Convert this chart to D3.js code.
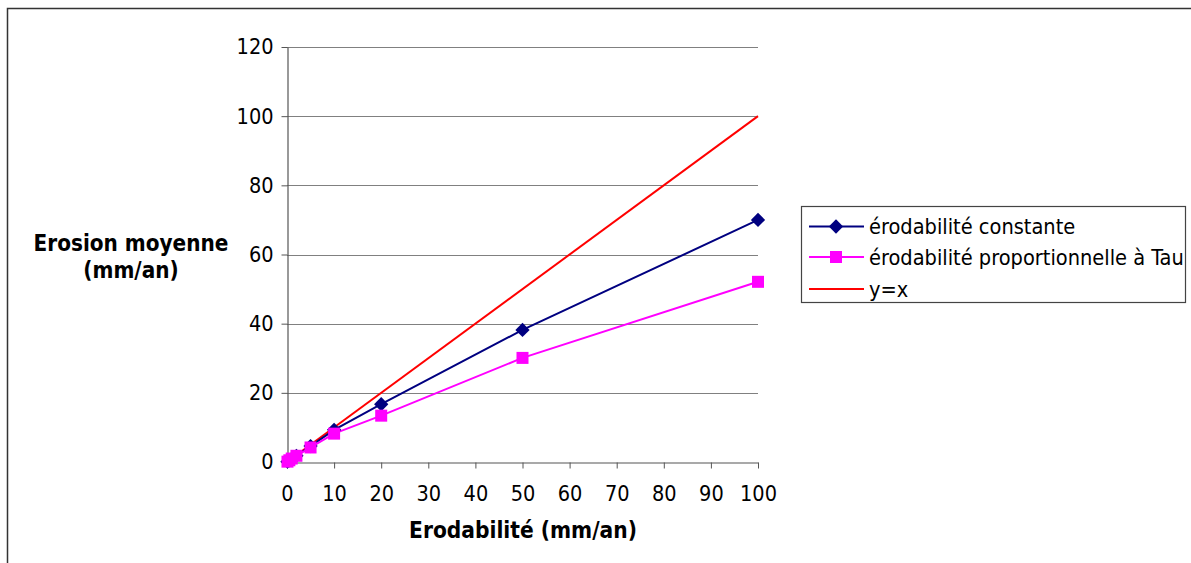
<!DOCTYPE html>
<html><head><meta charset="utf-8">
<script src="https://cdn.jsdelivr.net/npm/d3@7"></script>
<style>
html,body{margin:0;padding:0;background:#fff;}
svg{display:block;}
text{font-family:"DejaVu Sans Condensed","DejaVu Sans",sans-serif;fill:#000;}
</style></head>
<body><svg id="c" width="1191" height="563"></svg>
<script>
const xValues = [0.1, 0.5, 1, 2, 5, 10, 20, 50, 100];
const constante = [0.1, 0.5, 0.9, 1.8, 4.6, 9.3, 16.7, 38.2, 70.0];
const proportionnelle = [0.1, 0.5, 1.0, 1.8, 4.2, 8.2, 13.4, 30.1, 52.1];
const identite = [0, 100];
const xTicks = [0,10,20,30,40,50,60,70,80,90,100];
const yTicks = [0,20,40,60,80,100,120];
const seriesNames = ["érodabilité constante", "érodabilité proportionnelle à Tau", "y=x"];
const xTitle = "Erodabilité (mm/an)";
const yTitle = ["Erosion moyenne", "(mm/an)"];

const svg = d3.select("#c");
const x = d3.scaleLinear().domain([0,100]).range([287,758]);
const y = d3.scaleLinear().domain([0,120]).range([462,47]);

// outer border
svg.append("path").attr("d","M7.5,563 L7.5,8.5 L1191,8.5").attr("fill","none").attr("stroke","#333").attr("stroke-width",1.5);

// gridlines
svg.append("g").selectAll("line").data(yTicks.filter(d=>d>0)).join("line")
  .attr("x1",x(0)).attr("x2",x(100)).attr("y1",d=>Math.round(y(d))+0.5).attr("y2",d=>Math.round(y(d))+0.5)
  .attr("stroke","#808080").attr("stroke-width",1);

// axes
const xa = svg.append("g").attr("transform",`translate(0,${Math.round(y(0))+0.5})`)
  .call(d3.axisBottom(x).tickValues(xTicks).tickSize(6).tickSizeOuter(0).tickPadding(13).tickFormat(d3.format("d")));
const ya = svg.append("g").attr("transform",`translate(${Math.round(x(0))+0.5},0)`)
  .call(d3.axisLeft(y).tickValues(yTicks).tickSize(6).tickSizeOuter(0).tickPadding(8).tickFormat(d3.format("d")));
[xa,ya].forEach(a=>{
  a.select(".domain").attr("stroke","#555").attr("stroke-width",1.2);
  a.selectAll(".tick line").attr("stroke","#555");
  a.selectAll("text").attr("font-size",21.5).attr("font-family",null).attr("fill","#000");
});
xa.selectAll("text").attr("dy","0.9em");

// lines
const line = d3.line().x(d=>x(d[0])).y(d=>y(d[1]));
svg.append("path").datum(identite.map(v=>[v,v])).attr("d",line).attr("fill","none").attr("stroke","#ff0000").attr("stroke-width",2);
const dConst = xValues.map((v,i)=>[v,constante[i]]);
const dProp = xValues.map((v,i)=>[v,proportionnelle[i]]);
svg.append("path").datum(dConst).attr("d",line).attr("fill","none").attr("stroke","#000080").attr("stroke-width",2);
svg.append("path").datum(dProp).attr("d",line).attr("fill","none").attr("stroke","#ff00ff").attr("stroke-width",2);
const diamond = d3.symbol().type(d3.symbolDiamond2).size(130);
svg.append("g").selectAll("path").data(dConst).join("path")
  .attr("d",diamond).attr("transform",d=>`translate(${x(d[0])},${y(d[1])})`).attr("fill","#000080");
svg.append("g").selectAll("rect").data(dProp).join("rect")
  .attr("x",d=>x(d[0])-6).attr("y",d=>y(d[1])-6).attr("width",12).attr("height",12).attr("fill","#ff00ff");

// axis titles
svg.append("text").attr("x",523).attr("y",538).attr("text-anchor","middle").attr("font-size",22.5).attr("font-weight","bold").text(xTitle);
const yt = svg.append("text").attr("x",131).attr("text-anchor","middle").attr("font-size",22.3).attr("font-weight","bold");
yt.append("tspan").attr("x",131).attr("y",251).text(yTitle[0]);
yt.append("tspan").attr("x",131).attr("y",278).text(yTitle[1]);

// legend
const lg = svg.append("g");
lg.append("rect").attr("x",801.5).attr("y",206.5).attr("width",384).attr("height",96).attr("fill","#fff").attr("stroke","#444").attr("stroke-width",1.2);
const rowsY = [226.5, 257, 289];
const colors = ["#000080","#ff00ff","#ff0000"];
seriesNames.forEach((n,i)=>{
  lg.append("line").attr("x1",809).attr("x2",864).attr("y1",rowsY[i]).attr("y2",rowsY[i]).attr("stroke",colors[i]).attr("stroke-width",2);
  if(i===0) lg.append("path").attr("d",diamond).attr("transform",`translate(836,${rowsY[i]})`).attr("fill",colors[i]);
  if(i===1) lg.append("rect").attr("x",830).attr("y",rowsY[i]-6).attr("width",12).attr("height",12).attr("fill",colors[i]);
  lg.append("text").attr("x",869).attr("y",rowsY[i]).attr("dy","0.36em").attr("font-size",21.6).text(n);
});
</script></body></html>
